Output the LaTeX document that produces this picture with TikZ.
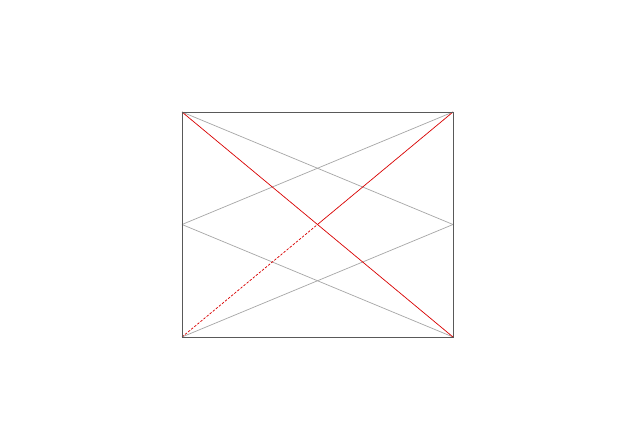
\documentclass[tikz,border=0pt]{standalone}
\begin{document}
\begin{tikzpicture}[x=1pt,y=-1pt,
  frame/.style={draw=black!65,line width=0.8pt},
  thinline/.style={draw=black!35,line width=0.7pt},
  redline/.style={draw=red!85!black,line width=0.7pt},
  reddash/.style={redline,dash pattern=on 2.5pt off 1.5pt}]
\useasboundingbox[fill=white] (0,0) rectangle (626,444);
\coordinate (tl) at (182,112);
\coordinate (tr) at (453,112);
\coordinate (br) at (453,337);
\coordinate (bl) at (182,337);
\coordinate (ml) at (182,224.5);
\coordinate (mr) at (453,224.5);
\coordinate (c) at (317.5,224.5);
\draw[thinline] (tl) -- (mr);
\draw[thinline] (ml) -- (tr);
\draw[thinline] (ml) -- (br);
\draw[thinline] (bl) -- (mr);
\draw[redline] (tl) -- (br);
\draw[reddash] (bl) -- (c);
\draw[redline] (c) -- (tr);
\draw[frame] (tl) -- (tr) -- (br) -- (bl) -- cycle;
\end{tikzpicture}
\end{document}
